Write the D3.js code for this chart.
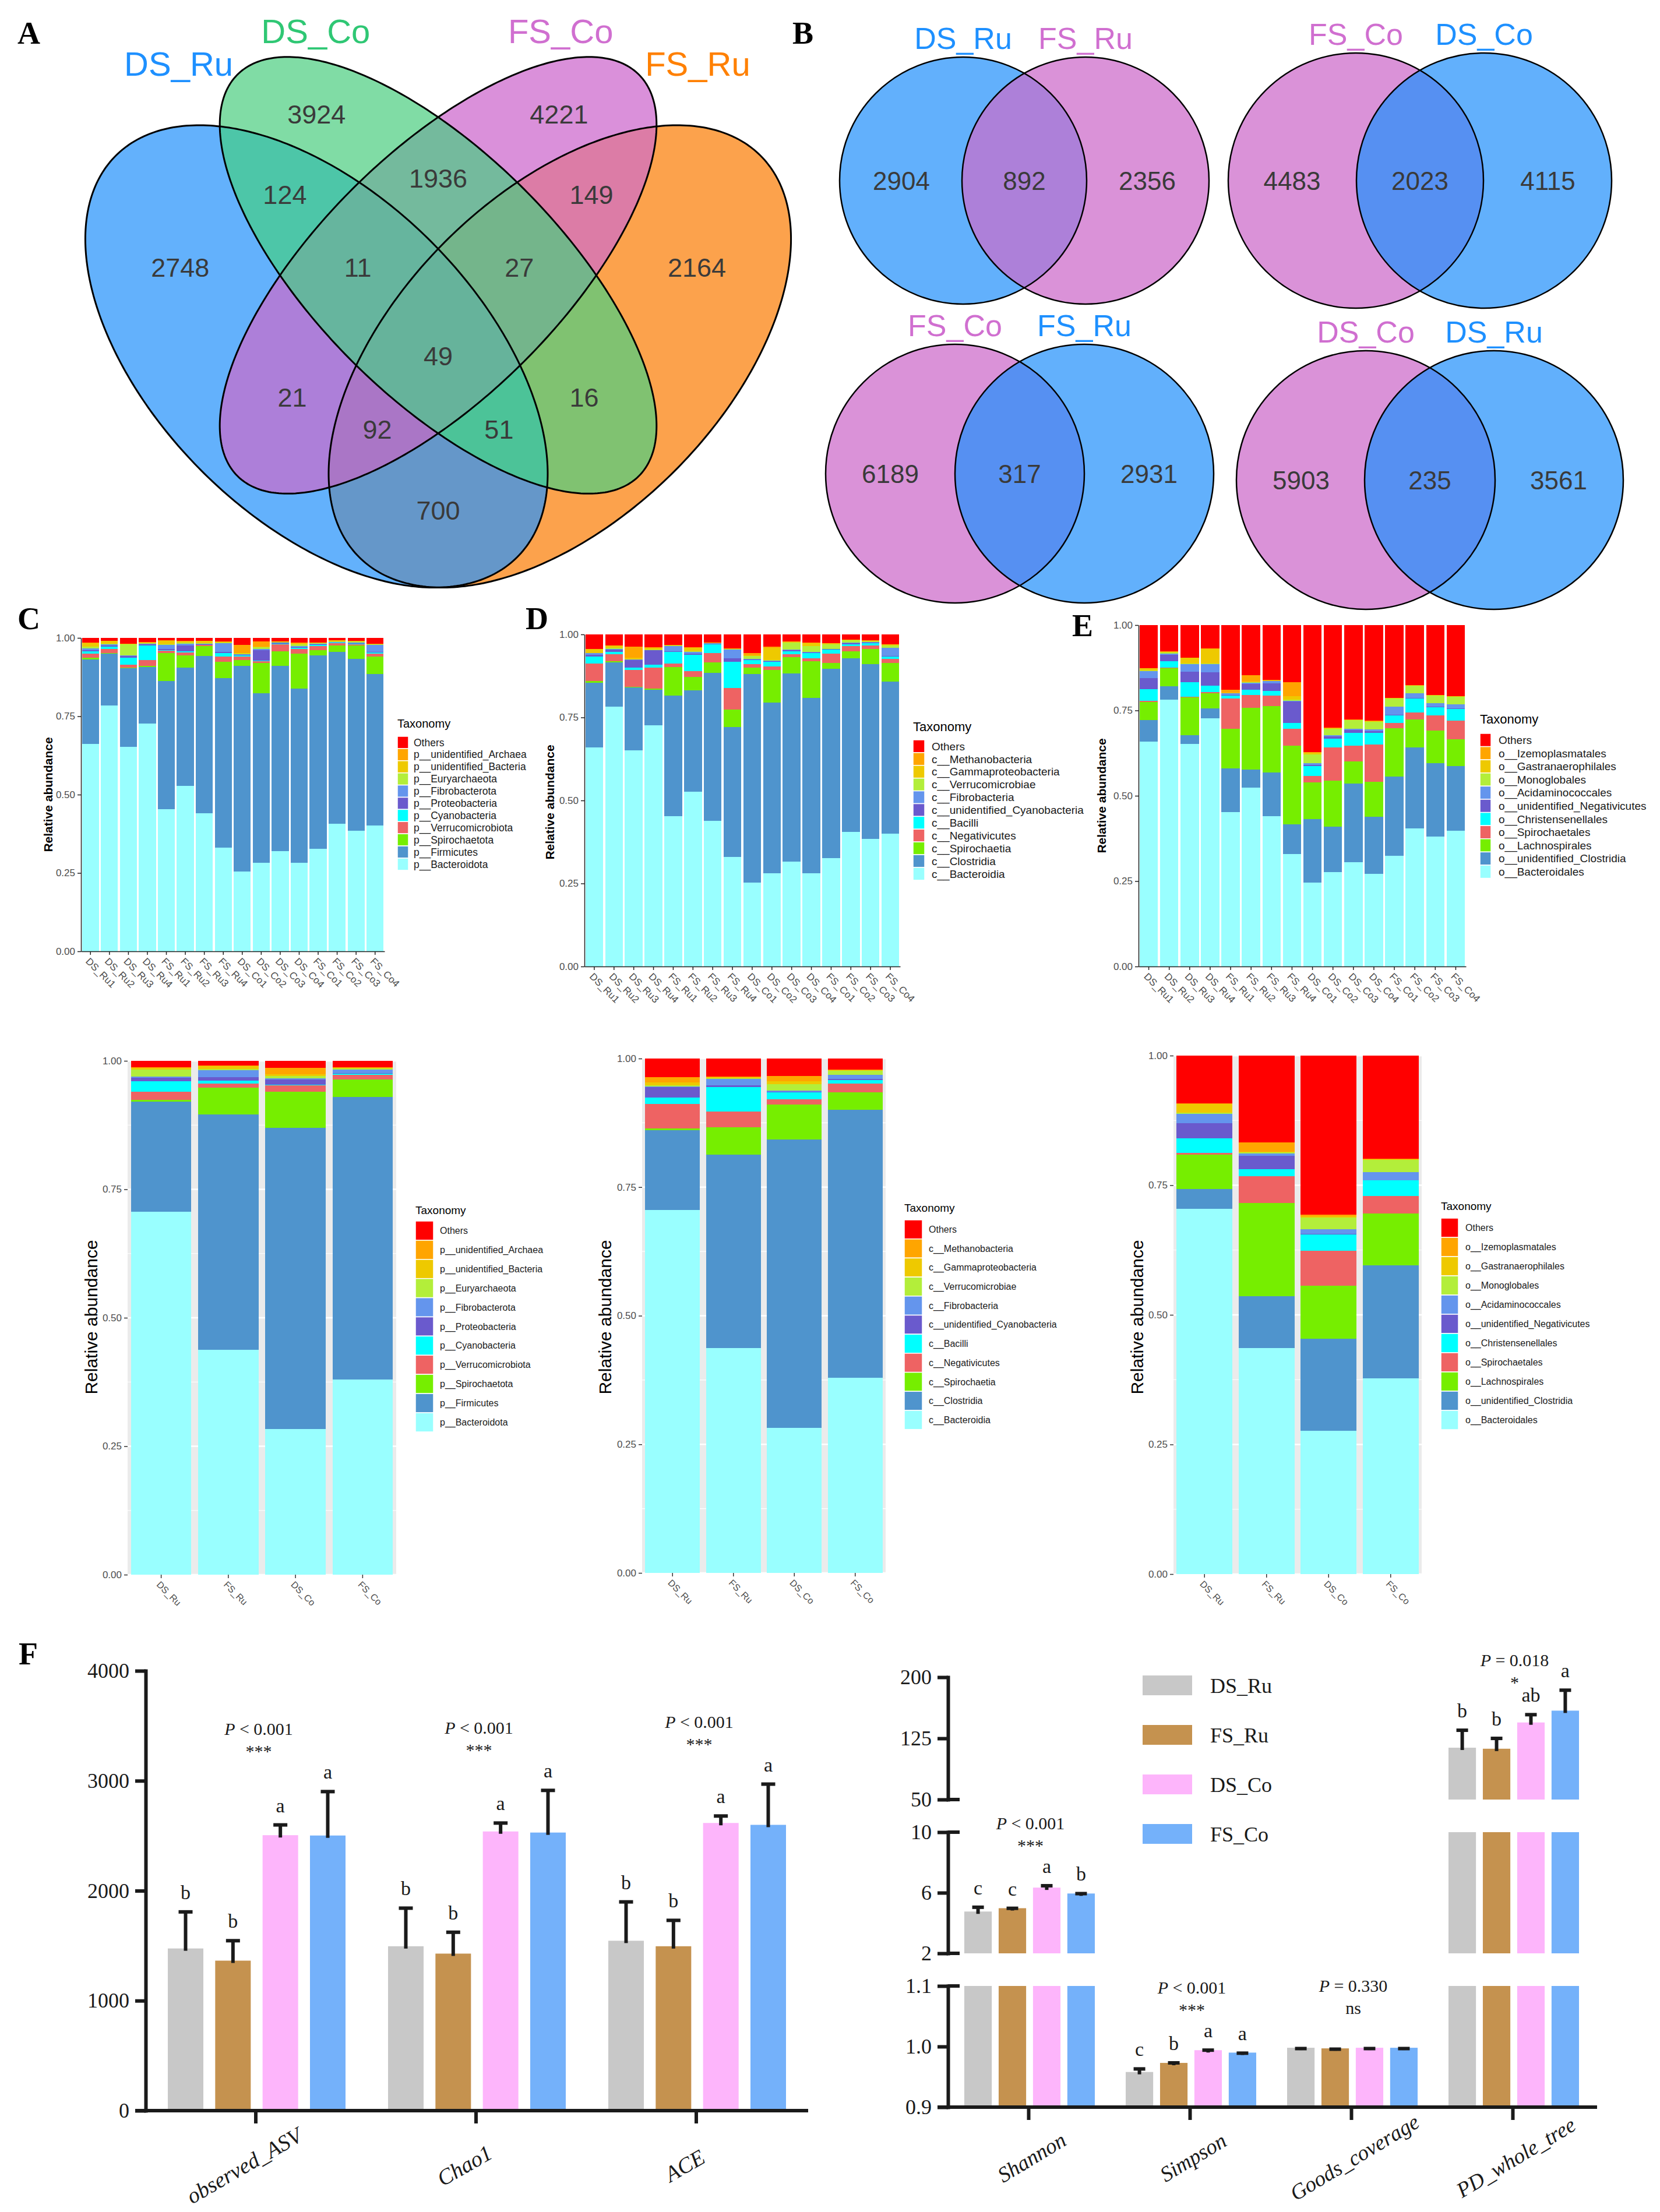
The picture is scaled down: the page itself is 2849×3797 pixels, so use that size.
<!DOCTYPE html>
<html>
<head>
<meta charset="utf-8">
<script src="https://cdn.jsdelivr.net/npm/d3@7/dist/d3.min.js"></script>
<style>
  body { margin: 0; background: #fff; }
  svg { display: block; }
</style>
</head>
<body>
<script>
// ===============================================================
// Data
// ===============================================================
const W = 2849, H = 3797;
const sans = 'Liberation Sans, Arial, sans-serif';
const serif = 'Liberation Serif, Times New Roman, serif';

// --- A: four-set Venn
const vennSetNames = ['DS_Ru', 'DS_Co', 'FS_Co', 'FS_Ru'];
const vennRegionKeys = ['1000', '0100', '0010', '0001', '1100', '0110', '0011', '1110', '0111', '1111', '1010', '0101', '1011', '1101', '1001'];
const vennRegionCounts = [2748, 3924, 4221, 2164, 124, 1936, 149, 11, 27, 49, 21, 16, 92, 51, 700];

// --- B: pairwise Venns
const pairNames = [['DS_Ru', 'FS_Ru'], ['FS_Co', 'DS_Co'], ['FS_Co', 'FS_Ru'], ['DS_Co', 'DS_Ru']];
const pairCounts = [[2904, 892, 2356], [4483, 2023, 4115], [6189, 317, 2931], [5903, 235, 3561]];

// --- C/D/E: relative abundance
const sampleNames = ['DS_Ru1', 'DS_Ru2', 'DS_Ru3', 'DS_Ru4', 'FS_Ru1', 'FS_Ru2', 'FS_Ru3', 'FS_Ru4',
                     'DS_Co1', 'DS_Co2', 'DS_Co3', 'DS_Co4', 'FS_Co1', 'FS_Co2', 'FS_Co3', 'FS_Co4'];
const groupNames = ['DS_Ru', 'FS_Ru', 'DS_Co', 'FS_Co'];

// stacking order, bottom -> top
const phylumTaxa = ['p__Bacteroidota', 'p__Firmicutes', 'p__Spirochaetota', 'p__Verrucomicrobiota', 'p__Cyanobacteria',
  'p__Proteobacteria', 'p__Fibrobacterota', 'p__Euryarchaeota', 'p__unidentified_Bacteria', 'p__unidentified_Archaea', 'Others'];
const classTaxa = ['c__Bacteroidia', 'c__Clostridia', 'c__Spirochaetia', 'c__Negativicutes', 'c__Bacilli',
  'c__unidentified_Cyanobacteria', 'c__Fibrobacteria', 'c__Verrucomicrobiae', 'c__Gammaproteobacteria', 'c__Methanobacteria', 'Others'];
const orderTaxa = ['o__Bacteroidales', 'o__unidentified_Clostridia', 'o__Lachnospirales', 'o__Spirochaetales', 'o__Christensenellales',
  'o__unidentified_Negativicutes', 'o__Acidaminococcales', 'o__Monoglobales', 'o__Gastranaerophilales', 'o__Izemoplasmatales', 'Others'];

const phylumBySample = [
  [.661, .270, .006, .013, .008, .003, .005, .006, .012, .002, .014],
  [.784, .165, .003, .012, .008, .004, .003, .003, .008, .001, .009],
  [.653, .250, .002, .010, .022, .005, .003, .035, .001, .001, .018],
  [.727, .180, .003, .020, .046, .004, .002, .002, .002, .001, .013],
  [.453, .410, .089, .008, .001, .003, .013, .003, .010, .002, .008],
  [.527, .379, .039, .008, .004, .019, .006, .003, .004, .001, .010],
  [.441, .501, .032, .003, .001, .002, .002, .002, .006, .001, .009],
  [.331, .540, .052, .017, .012, .004, .028, .001, .002, .001, .012],
  [.254, .657, .019, .010, .005, .002, .001, .002, .002, .026, .022],
  [.282, .541, .098, .005, .001, .034, .003, .006, .002, .016, .012],
  [.319, .592, .046, .023, .002, .003, .001, .001, .001, .001, .011],
  [.282, .557, .110, .015, .004, .003, .003, .006, .004, .001, .015],
  [.328, .617, .016, .013, .003, .002, .003, .002, .001, .001, .014],
  [.407, .549, .020, .008, .001, .001, .001, .002, .003, .001, .007],
  [.385, .548, .043, .004, .002, .002, .002, .002, .001, .001, .010],
  [.401, .484, .055, .010, .003, .002, .022, .002, .001, .001, .019]
];
const classBySample = [
  [.660, .195, .004, .053, .021, .005, .005, .001, .012, .001, .043],
  [.782, .133, .004, .022, .007, .006, .003, .002, .007, .001, .033],
  [.651, .189, .002, .051, .007, .022, .002, .001, .004, .034, .037],
  [.727, .107, .002, .064, .008, .044, .001, .001, .006, .001, .039],
  [.453, .362, .087, .010, .036, .002, .015, .001, .001, .001, .032],
  [.526, .306, .040, .018, .049, .003, .006, .002, .010, .001, .039],
  [.439, .446, .030, .028, .028, .001, .001, .001, .001, .001, .024],
  [.329, .392, .052, .066, .079, .010, .026, .002, .001, .001, .042],
  [.253, .628, .019, .010, .013, .002, .002, .008, .002, .006, .057],
  [.280, .514, .099, .010, .015, .001, .002, .002, .037, .003, .037],
  [.316, .567, .048, .010, .009, .002, .002, .022, .002, .001, .021],
  [.280, .529, .110, .009, .015, .003, .002, .017, .008, .002, .025],
  [.327, .570, .017, .028, .012, .002, .001, .014, .002, .001, .026],
  [.405, .523, .022, .015, .006, .002, .002, .007, .002, .001, .015],
  [.385, .525, .046, .011, .006, .002, .002, .002, .001, .002, .018],
  [.400, .458, .056, .013, .006, .002, .025, .007, .003, .001, .029]
];
const orderBySample = [
  [.659, .062, .053, .004, .035, .031, .021, .002, .006, .001, .126],
  [.781, .039, .053, .003, .018, .019, .004, .002, .003, .001, .077],
  [.652, .026, .111, .001, .042, .032, .021, .002, .017, .001, .095],
  [.727, .029, .045, .003, .018, .039, .024, .002, .043, .001, .069],
  [.452, .129, .115, .089, .008, .003, .004, .001, .001, .009, .189],
  [.524, .052, .181, .039, .015, .016, .004, .002, .002, .018, .147],
  [.441, .128, .194, .031, .013, .023, .006, .001, .001, .002, .160],
  [.330, .087, .229, .050, .017, .063, .003, .002, .010, .042, .167],
  [.246, .186, .107, .019, .029, .003, .006, .026, .004, .002, .372],
  [.276, .134, .134, .098, .025, .007, .004, .018, .002, .002, .300],
  [.306, .229, .065, .046, .038, .009, .003, .025, .001, .002, .276],
  [.272, .167, .102, .109, .034, .006, .004, .022, .002, .002, .280],
  [.324, .232, .142, .015, .022, .002, .024, .024, .001, .001, .213],
  [.405, .237, .082, .020, .041, .002, .013, .022, .001, .001, .176],
  [.381, .214, .096, .045, .023, .002, .011, .022, .001, .001, .204],
  [.398, .189, .078, .055, .034, .002, .012, .022, .001, .001, .208]
];
const phylumByGroup = [
  [.706, .215, .003, .016, .020, .007, .002, .014, .003, .001, .013],
  [.438, .458, .052, .008, .006, .006, .014, .002, .006, .001, .009],
  [.284, .586, .070, .012, .002, .010, .002, .004, .004, .012, .014],
  [.380, .550, .034, .009, .002, .001, .007, .002, .001, .001, .013]
];
const classByGroup = [
  [.705, .156, .003, .048, .012, .020, .002, .002, .006, .010, .036],
  [.437, .376, .053, .031, .047, .004, .012, .002, .002, .001, .035],
  [.282, .561, .068, .010, .013, .002, .002, .012, .006, .010, .034],
  [.379, .521, .034, .017, .007, .002, .008, .008, .001, .001, .022]
];
const orderByGroup = [
  [.705, .038, .066, .003, .028, .030, .018, .002, .017, .001, .092],
  [.436, .100, .180, .051, .014, .026, .004, .002, .002, .018, .167],
  [.276, .178, .102, .068, .031, .001, .009, .023, .002, .003, .307],
  [.377, .218, .100, .034, .030, .001, .015, .024, .001, .001, .199]
];

// --- F: alpha diversity
const richIndices = ['observed_ASV', 'Chao1', 'ACE'];
const richMean = [[1475, 1364, 2505, 2502], [1495, 1428, 2539, 2529], [1545, 1495, 2616, 2599]];
const richSD = [[343, 192, 104, 410], [357, 205, 87, 394], [364, 246, 74, 381]];
const richLetters = [['b', 'b', 'a', 'a'], ['b', 'b', 'a', 'a'], ['b', 'b', 'a', 'a']];
const richP = ['< 0.001', '< 0.001', '< 0.001'];
const richSig = ['***', '***', '***'];

const divIndices = ['Shannon', 'Simpson', 'Goods_coverage', 'PD_whole_tree'];
const divMean = [[4.76, 4.98, 6.34, 5.95], [0.958, 0.973, 0.994, 0.990], [0.998, 0.997, 0.998, 0.998], [113.6, 112.3, 144.5, 159.0]];
const divSD = [[0.36, 0.07, 0.20, 0.07], [0.007, 0.002, 0.002, 0.001], [0.0006, 0.0006, 0.0006, 0.0006], [22.8, 14.1, 11.0, 26.5]];
const divLetters = [['c', 'c', 'a', 'b'], ['c', 'b', 'a', 'a'], ['', '', '', ''], ['b', 'b', 'ab', 'a']];
const divP = ['< 0.001', '< 0.001', '= 0.330', '= 0.018'];
const divSig = ['***', '***', 'ns', '*'];
const divBreaks = [[0.9, 1.1], [2, 10], [50, 200]];
const divTicks = [[0.9, 1.0, 1.1], [2, 6, 10], [50, 125, 200]];

// ===============================================================
// Styles / layout
// ===============================================================
const taxaColors = ['#99FFFF', '#4F94CD', '#76EE00', '#EE6363', '#00FFFF', '#6A5ACD', '#6495ED', '#B3EE3A', '#EEC900', '#FFA500', '#FF0000'];
const groupColors = ['#C8C8C8', '#C5924F', '#FDB5FB', '#74B1FA'];
const vennLabelColors = ['#1E90FF', '#2FC774', '#D06FD0', '#FF8000'];
const vennRegionFill = {
  '1000': '#63B1FC', '0100': '#80DCA5', '0010': '#DA90DA', '0001': '#FCA24C',
  '1100': '#4DC6A8', '0110': '#74BA9D', '0011': '#DC7CA6', '1110': '#66B59E',
  '0111': '#74B58B', '1111': '#66B39B', '1010': '#AD7FD9', '0101': '#80C271',
  '1011': '#AA76C6', '1101': '#4CC398', '1001': '#6597C9'
};
// unit-square layout of the 4-ellipse venn (VennDiagram style)
const vennEllipses = [
  {cx: .35, cy: .47, a: .35, b: .20, rot: -45},
  {cx: .50, cy: .57, a: .35, b: .15, rot: -45},
  {cx: .50, cy: .57, a: .35, b: .15, rot: 45},
  {cx: .65, cy: .47, a: .35, b: .20, rot: 45}
];
const vennLabelPos = {
  '1000': [.182, .580], '0100': [.350, .769], '0010': [.649, .769], '0001': [.819, .580],
  '1100': [.311, .670], '0110': [.500, .690], '0011': [.689, .670], '1110': [.401, .580],
  '0111': [.600, .580], '1111': [.500, .471], '1010': [.320, .420], '0101': [.680, .420],
  '1011': [.425, .380], '1101': [.575, .380], '1001': [.500, .280]
};
const vennSetPos = [[.180, .816], [.349, .856], [.651, .856], [.820, .816]];

const svg = d3.select('body').append('svg')
  .attr('width', W).attr('height', H)
  .style('font-family', sans);
svg.append('rect').attr('width', W).attr('height', H).attr('fill', '#fff');
const defs = svg.append('defs');

// panel letters
[['A', 30, 75], ['B', 1360, 75], ['C', 30, 1080], ['D', 902, 1080], ['E', 1840, 1092], ['F', 32, 2857]]
  .forEach(([t, x, y]) => svg.append('text').attr('x', x).attr('y', y).text(t)
    .attr('font-family', serif).attr('font-weight', 'bold').attr('font-size', 54).attr('fill', '#000'));

// ===============================================================
// A: four-set venn
// ===============================================================
const vx = d3.scaleLinear().domain([0, 1]).range([56, 1448]);
const vy = d3.scaleLinear().domain([0, 1]).range([1266, -126]);

function ellipseD(e) {
  const r = e.rot * Math.PI / 180;
  const pts = d3.range(0, 360, 1).map(t => {
    const th = t * Math.PI / 180;
    const ex = e.a * Math.cos(th), ey = e.b * Math.sin(th);
    return [vx(e.cx + ex * Math.cos(r) - ey * Math.sin(r)), vy(e.cy + ex * Math.sin(r) + ey * Math.cos(r))];
  });
  return d3.line().curve(d3.curveLinearClosed)(pts);
}
const ellD = vennEllipses.map(ellipseD);
ellD.forEach((d, i) => defs.append('clipPath').attr('id', 'vclip' + i).append('path').attr('d', d));

const gA = svg.append('g');
vennRegionKeys.forEach(key => {
  const inc = [], exc = [];
  [...key].forEach((c, i) => (c === '1' ? inc : exc).push(i));
  const mask = defs.append('mask').attr('id', 'vm' + key)
    .attr('maskUnits', 'userSpaceOnUse').attr('x', 0).attr('y', 0).attr('width', W).attr('height', H);
  mask.append('rect').attr('width', W).attr('height', H).attr('fill', '#fff');
  exc.forEach(i => mask.append('path').attr('d', ellD[i]).attr('fill', '#000'));
  let g = gA;
  inc.slice(1).forEach(i => { g = g.append('g').attr('clip-path', `url(#vclip${i})`); });
  g.append('path').attr('d', ellD[inc[0]]).attr('fill', vennRegionFill[key]).attr('mask', `url(#vm${key})`);
});
gA.selectAll('path.outline').data(ellD).join('path').attr('class', 'outline')
  .attr('d', d => d).attr('fill', 'none').attr('stroke', '#000').attr('stroke-width', 3);
gA.selectAll('text.cnt').data(vennRegionKeys).join('text').attr('class', 'cnt')
  .attr('x', k => vx(vennLabelPos[k][0])).attr('y', k => vy(vennLabelPos[k][1]))
  .attr('dy', '0.36em').attr('text-anchor', 'middle').attr('font-size', 45).attr('fill', '#3a3a3a')
  .text((k, i) => vennRegionCounts[i]);
gA.selectAll('text.set').data(vennSetNames).join('text').attr('class', 'set')
  .attr('x', (d, i) => vx(vennSetPos[i][0])).attr('y', (d, i) => vy(vennSetPos[i][1]))
  .attr('text-anchor', 'middle').attr('font-size', 58).attr('fill', (d, i) => vennLabelColors[i]).text(d => d);

// ===============================================================
// B: pairwise venns
// ===============================================================
const pairLayout = [
  {mx: 1758, cy: 310, r: 212, d: 210},
  {mx: 2437, cy: 310, r: 219, d: 220},
  {mx: 1750, cy: 813, r: 222, d: 222},
  {mx: 2454, cy: 824, r: 222, d: 220}
];
const pairLeftBlue = [true, false, false, false];
const pinkFill = '#DA92D8', blueFill = '#62B0FC', pinkText = '#D06FD0', blueText = '#1E90FF';
const gB = svg.append('g');
pairLayout.forEach((p, k) => {
  const px = d3.scaleLinear().domain([-1, 1]).range([p.mx - p.r, p.mx + p.r]);
  const cL = px(-p.d / 2 / p.r), cR = px(p.d / 2 / p.r);
  const lc = pairLeftBlue[k] ? blueFill : pinkFill, rc = pairLeftBlue[k] ? pinkFill : blueFill;
  const ltc = pairLeftBlue[k] ? blueText : pinkText, rtc = pairLeftBlue[k] ? pinkText : blueText;
  const g = gB.append('g');
  g.append('circle').attr('cx', cL).attr('cy', p.cy).attr('r', p.r).attr('fill', lc);
  g.append('circle').attr('cx', cR).attr('cy', p.cy).attr('r', p.r).attr('fill', rc);
  defs.append('clipPath').attr('id', 'pc' + k).append('circle').attr('cx', cL).attr('cy', p.cy).attr('r', p.r);
  g.append('circle').attr('cx', cR).attr('cy', p.cy).attr('r', p.r).attr('clip-path', `url(#pc${k})`)
    .attr('fill', pairLeftBlue[k] ? '#AD80D9' : '#5690F2');
  [cL, cR].forEach(c => g.append('circle').attr('cx', c).attr('cy', p.cy).attr('r', p.r)
    .attr('fill', 'none').attr('stroke', '#000').attr('stroke-width', 2.5));
  const numX = [cL - p.r / 2, (cL + cR) / 2, cR + p.r / 2];
  pairCounts[k].forEach((n, j) => g.append('text').attr('x', numX[j]).attr('y', p.cy).attr('dy', '0.36em')
    .attr('text-anchor', 'middle').attr('font-size', 44).attr('fill', '#3a3a3a').text(n));
  [cL, cR].forEach((c, j) => g.append('text').attr('x', c).attr('y', p.cy - p.r - 14)
    .attr('text-anchor', 'middle').attr('font-size', 52).attr('fill', j === 0 ? ltc : rtc).text(pairNames[k][j]));
});

// ===============================================================
// C/D/E: stacked relative abundance
// ===============================================================
function drawStack(cfg) {
  const g = svg.append('g');
  const x = d3.scaleBand().domain(cfg.names).range([cfg.x0, cfg.x1]).paddingInner(0.1).paddingOuter(0.05);
  const y = d3.scaleLinear().domain([0, 1]).range([cfg.y1, cfg.y0]);
  if (cfg.grey) {
    g.append('rect').attr('x', cfg.x0).attr('y', cfg.y0).attr('width', cfg.x1 - cfg.x0).attr('height', cfg.y1 - cfg.y0).attr('fill', '#EBEBEB');
    g.selectAll('line.minor').data(d3.range(0.125, 1, 0.25)).join('line').attr('class', 'minor')
      .attr('x1', cfg.x0).attr('x2', cfg.x1).attr('y1', d => y(d)).attr('y2', d => y(d)).attr('stroke', '#fff').attr('stroke-width', 1.2);
    g.selectAll('line.major').data([0, .25, .5, .75, 1]).join('line').attr('class', 'major')
      .attr('x1', cfg.x0).attr('x2', cfg.x1).attr('y1', d => y(d)).attr('y2', d => y(d)).attr('stroke', '#fff').attr('stroke-width', 2.4);
  }
  const keys = cfg.taxa.map((t, j) => 'k' + j);
  const rows = cfg.rows.map((v, i) => {
    const o = {name: cfg.names[i]};
    v.forEach((val, j) => { o['k' + j] = val; });
    return o;
  });
  const series = d3.stack().keys(keys)(rows);
  g.selectAll('g.layer').data(series).join('g').attr('class', 'layer').attr('fill', (d, i) => taxaColors[i])
    .selectAll('rect').data(d => d).join('rect')
    .attr('x', d => x(d.data.name)).attr('width', x.bandwidth())
    .attr('y', d => y(Math.min(d[1], 1)))
    .attr('height', d => Math.max(0, y(d[0]) - y(Math.min(d[1], 1))))
    .attr('shape-rendering', 'crispEdges');

  const axCol = cfg.grey ? '#333' : '#222';
  const ya = g.append('g').attr('transform', `translate(${cfg.x0},0)`)
    .call(d3.axisLeft(y).tickValues([0, .25, .5, .75, 1]).tickFormat(d3.format('.2f')).tickSize(6).tickSizeOuter(0).tickPadding(4));
  ya.selectAll('text').attr('font-size', cfg.tickFont).attr('fill', '#4D4D4D').attr('font-family', sans);
  ya.selectAll('line').attr('stroke', axCol).attr('stroke-width', 1.5);
  const xa = g.append('g').attr('transform', `translate(0,${cfg.y1})`)
    .call(d3.axisBottom(x).tickSize(6).tickSizeOuter(0));
  xa.selectAll('line').attr('stroke', axCol).attr('stroke-width', 1.5);
  xa.selectAll('text').attr('x', 0).attr('y', 0).attr('dy', '0.35em')
    .attr('transform', 'translate(-5,14) rotate(45)').attr('text-anchor', 'start')
    .attr('font-size', cfg.xFont).attr('fill', '#4D4D4D').attr('font-family', sans);
  if (cfg.grey) {
    ya.select('.domain').remove();
    xa.select('.domain').remove();
  } else {
    ya.select('.domain').attr('stroke', axCol).attr('stroke-width', 1.5);
    xa.select('.domain').attr('stroke', axCol).attr('stroke-width', 1.5);
  }
  g.append('text').attr('transform', `translate(${cfg.title[0]},${cfg.title[1]}) rotate(-90)`)
    .attr('text-anchor', 'middle').attr('dy', '0.35em').attr('font-size', cfg.titleSize)
    .attr('font-weight', cfg.bold ? 'bold' : 'normal').attr('fill', '#000').text('Relative abundance');

  const L = cfg.legend;
  const items = cfg.taxa.map((t, i) => ({t, c: taxaColors[i]})).reverse();
  const ly = d3.scaleBand().domain(items.map(d => d.t)).range([L.keyY, L.keyY + items.length * L.step]);
  const lg = g.append('g');
  lg.append('text').attr('x', L.x).attr('y', L.titleY).attr('dy', '0.35em').attr('font-size', L.titleFont)
    .attr('fill', '#000').text('Taxonomy');
  lg.selectAll('rect').data(items).join('rect')
    .attr('x', L.x).attr('y', d => ly(d.t)).attr('width', L.kw).attr('height', ly.bandwidth())
    .attr('fill', d => d.c).attr('stroke', '#fff').attr('stroke-width', 1.5);
  lg.selectAll('text.item').data(items).join('text').attr('class', 'item')
    .attr('x', L.tx).attr('y', d => ly(d.t) + ly.bandwidth() / 2).attr('dy', '0.35em')
    .attr('font-size', L.font).attr('fill', '#1a1a1a').text(d => d.t);
}

const stackPanels = [
  {names: sampleNames, rows: phylumBySample, taxa: phylumTaxa, x0: 139, x1: 660, y0: 1095, y1: 1633, grey: false,
   title: [83, 1364], titleSize: 21, bold: true, tickFont: 17, xFont: 17,
   legend: {x: 682, titleY: 1242, keyY: 1264, step: 20.9, kw: 19, tx: 710, font: 17.5, titleFont: 20}},
  {names: sampleNames, rows: classBySample, taxa: classTaxa, x0: 1003, x1: 1545, y0: 1089, y1: 1659, grey: false,
   title: [944, 1377], titleSize: 21, bold: true, tickFont: 17, xFont: 17,
   legend: {x: 1567, titleY: 1247, keyY: 1270, step: 21.9, kw: 20, tx: 1599, font: 19, titleFont: 22}},
  {names: sampleNames, rows: orderBySample, taxa: orderTaxa, x0: 1954, x1: 2516, y0: 1073, y1: 1659, grey: false,
   title: [1891, 1366], titleSize: 21, bold: true, tickFont: 17, xFont: 17,
   legend: {x: 2540, titleY: 1234, keyY: 1259, step: 22.6, kw: 19, tx: 2572, font: 19, titleFont: 22}},
  {names: groupNames, rows: phylumByGroup, taxa: phylumTaxa, x0: 219, x1: 680, y0: 1821, y1: 2703, grey: true,
   title: [156, 2261], titleSize: 30, bold: false, tickFont: 17, xFont: 16,
   legend: {x: 713, titleY: 2077, keyY: 2096, step: 32.9, kw: 31, tx: 755, font: 16, titleFont: 19}},
  {names: groupNames, rows: classByGroup, taxa: classTaxa, x0: 1102, x1: 1520, y0: 1817, y1: 2700, grey: true,
   title: [1038, 2261], titleSize: 30, bold: false, tickFont: 17, xFont: 16,
   legend: {x: 1552, titleY: 2073, keyY: 2094, step: 32.7, kw: 31, tx: 1594, font: 16, titleFont: 19}},
  {names: groupNames, rows: orderByGroup, taxa: orderTaxa, x0: 2014, x1: 2440, y0: 1812, y1: 2702, grey: true,
   title: [1951, 2261], titleSize: 30, bold: false, tickFont: 17, xFont: 16,
   legend: {x: 2473, titleY: 2070, keyY: 2091, step: 33, kw: 30, tx: 2515, font: 16, titleFont: 19}}
];
stackPanels.forEach(drawStack);

// ===============================================================
// F: alpha diversity bars
// ===============================================================
const ink = '#1a1a1a';
function pLabel(g, x, y, rel) {
  const t = g.append('text').attr('x', x).attr('y', y).attr('text-anchor', 'middle')
    .attr('font-family', serif).attr('font-size', 30).attr('fill', ink);
  t.append('tspan').attr('font-style', 'italic').text('P');
  t.append('tspan').text(' ' + rel);
}
function sigLabel(g, x, y, s) {
  g.append('text').attr('x', x).attr('y', y).attr('text-anchor', 'middle')
    .attr('font-family', serif).attr('font-size', 30).attr('fill', ink).text(s);
}
function errBar(g, cx, yv, ye, cap) {
  g.append('line').attr('x1', cx).attr('x2', cx).attr('y1', yv).attr('y2', ye).attr('stroke', ink).attr('stroke-width', 6);
  g.append('line').attr('x1', cx - cap).attr('x2', cx + cap).attr('y1', ye + 2).attr('y2', ye + 2).attr('stroke', ink).attr('stroke-width', 6);
}

// ---- left: richness
const gF = svg.append('g');
const fy = d3.scaleLinear().domain([0, 4000]).range([3623, 2868]);
const fxo = d3.scaleBand().domain(richIndices).range([250, 1384]);
const fxi = d3.scaleBand().domain(groupNames).range([38, 343]).paddingInner(0.25);
richIndices.forEach((idx, i) => {
  const base = fxo(idx);
  let maxTop = Infinity;
  groupNames.forEach((grp, j) => {
    const m = richMean[i][j], s = richSD[i][j];
    const bx = base + fxi(grp), cx = bx + fxi.bandwidth() / 2;
    gF.append('rect').attr('x', bx).attr('width', fxi.bandwidth()).attr('y', fy(m)).attr('height', fy(0) - fy(m)).attr('fill', groupColors[j]);
    errBar(gF, cx, fy(m) + 4, fy(m + s), 12);
    gF.append('text').attr('x', cx).attr('y', fy(m + s) - 20).attr('text-anchor', 'middle')
      .attr('font-family', serif).attr('font-size', 34).attr('fill', ink).text(richLetters[i][j]);
    maxTop = Math.min(maxTop, fy(m + s));
  });
  const pc = base + fxo.bandwidth() / 2 + 5;
  const py = Math.max(maxTop - 95, 2860);
  pLabel(gF, pc, py, richP[i]);
  sigLabel(gF, pc, py + 38, richSig[i]);
});
const fyAx = gF.append('g').attr('transform', 'translate(250,0)')
  .call(d3.axisLeft(fy).tickValues([0, 1000, 2000, 3000, 4000]).tickFormat(d3.format('d')).tickSize(18).tickSizeOuter(0).tickPadding(10));
fyAx.select('.domain').attr('stroke', ink).attr('stroke-width', 6).attr('stroke-linecap', 'square');
fyAx.selectAll('line').attr('stroke', ink).attr('stroke-width', 6);
fyAx.selectAll('text').attr('font-family', serif).attr('font-size', 36).attr('fill', ink);
gF.append('line').attr('x1', 232).attr('x2', 1387).attr('y1', fy(0)).attr('y2', fy(0)).attr('stroke', ink).attr('stroke-width', 6);
const fxAx = gF.append('g').attr('transform', `translate(0,${fy(0)})`)
  .call(d3.axisBottom(fxo).tickSize(22).tickSizeOuter(0));
fxAx.select('.domain').remove();
fxAx.selectAll('line').attr('stroke', ink).attr('stroke-width', 6);
fxAx.selectAll('text').attr('x', 0).attr('y', 0).attr('dy', '0.35em')
  .attr('transform', 'translate(-20,94) rotate(-30)').attr('text-anchor', 'middle')
  .attr('font-family', serif).attr('font-style', 'italic').attr('font-size', 38).attr('fill', ink);

// ---- right: diversity with broken axis
const segRanges = [[3617, 3409], [3353, 3145], [3089, 2879]];
const segScales = divBreaks.map((b, k) => d3.scaleLinear().domain(b).range(segRanges[k]));
const dxo = d3.scaleBand().domain(divIndices).range([1627, 2735]);
const dxi = d3.scaleBand().domain(groupNames).range([28, 252]).paddingInner(0.2);
divIndices.forEach((idx, i) => {
  const base = dxo(idx);
  let maxTop = Infinity;
  groupNames.forEach((grp, j) => {
    const m = divMean[i][j], s = divSD[i][j];
    const bx = base + dxi(grp), cx = bx + dxi.bandwidth() / 2;
    let topY = null;
    segScales.forEach((sc, k) => {
      const [lo, hi] = divBreaks[k];
      if (m <= lo) return;
      const top = Math.min(m, hi);
      gF.append('rect').attr('x', bx).attr('width', dxi.bandwidth()).attr('y', sc(top)).attr('height', sc(lo) - sc(top)).attr('fill', groupColors[j]);
      if (m <= hi) {
        const ye = sc(Math.min(m + s, hi));
        errBar(gF, cx, sc(m) + 4, ye, 10);
        topY = ye;
      }
    });
    gF.append('text').attr('x', cx).attr('y', topY - 20).attr('text-anchor', 'middle')
      .attr('font-family', serif).attr('font-size', 34).attr('fill', ink).text(divLetters[i][j]);
    maxTop = Math.min(maxTop, topY);
  });
  const pc = base + dxo.bandwidth() / 2 + 3;
  const py = Math.max(maxTop - 95, 2860);
  pLabel(gF, pc, py, divP[i]);
  sigLabel(gF, pc, py + 38, divSig[i]);
});
segScales.forEach((sc, k) => {
  const ax = gF.append('g').attr('transform', 'translate(1627,0)')
    .call(d3.axisLeft(sc).tickValues(divTicks[k]).tickFormat(k === 0 ? d3.format('.1f') : d3.format('d')).tickSize(18).tickSizeOuter(0).tickPadding(10));
  ax.select('.domain').attr('stroke', ink).attr('stroke-width', 6).attr('stroke-linecap', 'square');
  ax.selectAll('line').attr('stroke', ink).attr('stroke-width', 6);
  ax.selectAll('text').attr('font-family', serif).attr('font-size', 36).attr('fill', ink);
  const [lo, hi] = divBreaks[k];
  const caps = [];
  if (k > 0) caps.push(lo);
  if (k < divBreaks.length - 1) caps.push(hi);
  caps.forEach(v => gF.append('line').attr('x1', 1627).attr('x2', 1647).attr('y1', sc(v)).attr('y2', sc(v)).attr('stroke', ink).attr('stroke-width', 6));
});
const dBase = segScales[0](divBreaks[0][0]);
gF.append('line').attr('x1', 1609).attr('x2', 2741).attr('y1', dBase).attr('y2', dBase).attr('stroke', ink).attr('stroke-width', 6);
const dxAx = gF.append('g').attr('transform', `translate(0,${dBase})`)
  .call(d3.axisBottom(dxo).tickSize(22).tickSizeOuter(0));
dxAx.select('.domain').remove();
dxAx.selectAll('line').attr('stroke', ink).attr('stroke-width', 6);
dxAx.selectAll('text').attr('x', 0).attr('y', 0).attr('dy', '0.35em')
  .attr('transform', 'translate(5,86) rotate(-31)').attr('text-anchor', 'middle')
  .attr('font-family', serif).attr('font-style', 'italic').attr('font-size', 37).attr('fill', ink);

// legend
const fl = d3.scaleBand().domain(groupNames).range([2876, 2876 + 4 * 85]);
gF.selectAll('rect.fleg').data(groupNames).join('rect').attr('class', 'fleg')
  .attr('x', 1961).attr('y', d => fl(d)).attr('width', 85).attr('height', 34).attr('fill', (d, i) => groupColors[i]);
gF.selectAll('text.fleg').data(groupNames).join('text').attr('class', 'fleg')
  .attr('x', 2077).attr('y', d => fl(d) + 17).attr('dy', '0.35em')
  .attr('font-family', serif).attr('font-size', 36).attr('fill', ink).text(d => d);
</script>
</body>
</html>
